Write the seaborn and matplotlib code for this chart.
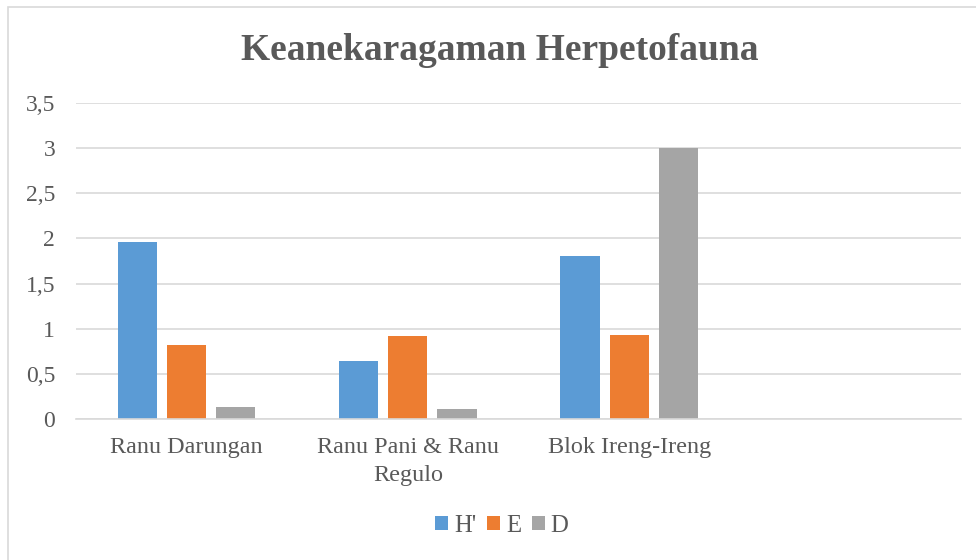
import pandas as pd
import matplotlib.pyplot as plt
import seaborn as sns
from matplotlib.patches import Rectangle

# Data
locations = ["Ranu Darungan", "Ranu Pani & Ranu Regulo", "Blok Ireng-Ireng"]
tick_labels = ["Ranu Darungan", "Ranu Pani & Ranu\nRegulo", "Blok Ireng-Ireng", ""]
indices = ["H'", "E", "D"]
h_values = [1.96, 0.64, 1.81]
e_values = [0.82, 0.92, 0.93]
d_values = [0.13, 0.11, 3.00]

colors = ["#5B9BD5", "#ED7D31", "#A5A5A5"]
text_color = "#595959"
grid_color = "#D9D9D9"

df = pd.DataFrame({
    "lokasi": locations * 3,
    "indeks": ["H'"] * 3 + ["E"] * 3 + ["D"] * 3,
    "nilai": h_values + e_values + d_values,
})

sns.set_style("white")
plt.rcParams['font.family'] = ['Liberation Serif', 'DejaVu Serif']

fig = plt.figure(figsize=(9.76, 5.60), dpi=100)
ax = fig.add_axes([76 / 976, 141 / 560, 885 / 976, 316 / 560])

order = locations + ["(kosong)"]
sns.barplot(data=df, x="lokasi", y="nilai", hue="indeks", order=order,
            hue_order=indices, palette=colors, width=0.665, gap=0.2,
            saturation=1, linewidth=0, ax=ax, legend=True)

ax.set_ylim(0, 3.5)
ax.set_xlim(-0.5, 3.5)
yt = [0, 0.5, 1, 1.5, 2, 2.5, 3, 3.5]
ax.set_yticks(yt)
ax.set_yticklabels([f"{v:g}".replace(".", ",") for v in yt])
ax.set_xticks(range(4))
ax.set_xticklabels(tick_labels, linespacing=1.45)
ax.set_xlabel("")
ax.set_ylabel("")

ax.grid(axis="y", color=grid_color, linewidth=1.2)
ax.set_axisbelow(True)
for s in ["left", "right", "top"]:
    ax.spines[s].set_visible(False)
ax.spines["bottom"].set_color(grid_color)
ax.spines["bottom"].set_linewidth(1.2)
ax.tick_params(axis="y", length=0, pad=15, labelsize=17, labelcolor=text_color)
ax.tick_params(axis="x", length=0, pad=13, labelsize=17.4, labelcolor=text_color)

# Legend at the bottom
handles, labels = ax.get_legend_handles_labels()
ax.get_legend().remove()
fig.legend(handles, labels, loc="center", bbox_to_anchor=(502 / 976, 1 - 526 / 560),
           ncol=3, frameon=False, fontsize=17.8, labelcolor=text_color,
           handlelength=0.5, handleheight=0.5, handletextpad=0.25,
           columnspacing=0.45)

fig.text(500 / 976, 1 - 50 / 560, "Keanekaragaman Herpetofauna", ha="center",
         va="center", fontsize=27, fontweight="bold", color=text_color)

# Chart border (left and top visible)
fig.patches.append(Rectangle((7.5 / 976, -0.1), 1.2, 1.1 - 7 / 560,
                             transform=fig.transFigure, fill=False,
                             edgecolor=grid_color, linewidth=1.2))

fig.savefig("out.png", dpi=100)
